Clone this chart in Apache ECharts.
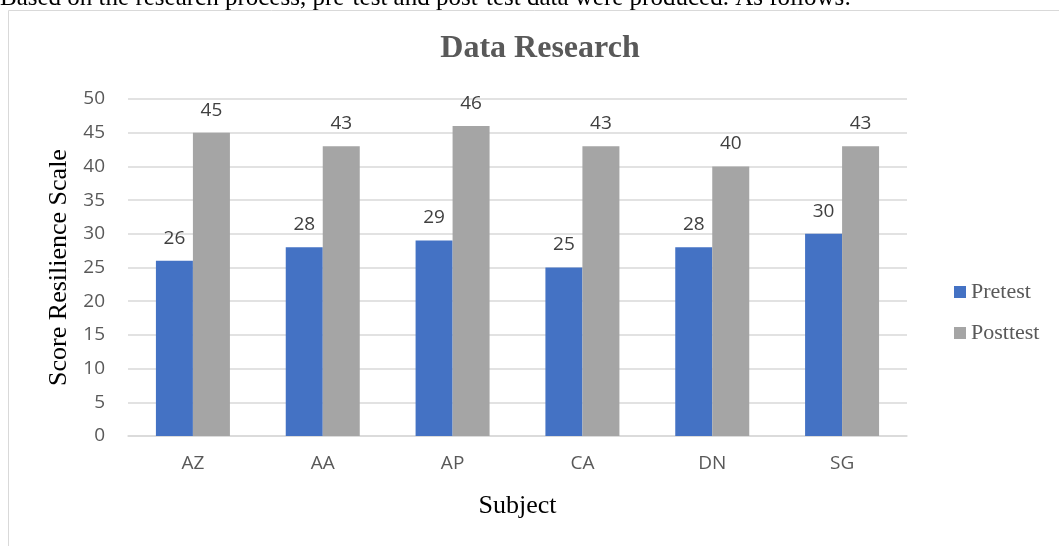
<!DOCTYPE html>
<html><head><meta charset="utf-8">
<script src="https://cdn.jsdelivr.net/npm/echarts@6/dist/echarts.min.js"></script>
<style>html,body{margin:0;padding:0;background:#fff;}#c{width:1059px;height:546px;}</style>
</head><body><div id="c"></div>
<script>
const categories = ['AZ', 'AA', 'AP', 'CA', 'DN', 'SG'];
const pretest = [26, 28, 29, 25, 28, 30];
const posttest = [45, 43, 46, 43, 40, 43];
const seriesNames = ['Pretest', 'Posttest'];

const chart = echarts.init(document.getElementById('c'));
const labelStyle = {show: true, position: 'top', distance: 13, color: '#404040', fontSize: 19, fontFamily: 'Open Sans'};
chart.setOption({
  animation: false,
  title: {
    text: 'Data Research', left: 535, top: 28, textAlign: 'center',
    textStyle: {fontFamily: 'Liberation Serif', fontWeight: 'bold', fontSize: 32, color: '#595959'}
  },
  graphic: [
    {type: 'rect', shape: {x: 8.5, y: 10.5, width: 1100, height: 600}, style: {fill: 'none', stroke: '#d9d9d9', lineWidth: 1}},
    {type: 'text', left: 0, top: -14, style: {text: 'Based on the research process, pre-test and post-test data were produced. As follows:', font: '25px "Liberation Serif"', fill: '#000'}}
  ],
  legend: {
    orient: 'vertical', left: 949, top: 276, itemGap: 19, itemWidth: 12, itemHeight: 12, icon: 'rect',
    textStyle: {fontFamily: 'Liberation Serif', fontSize: 22, color: '#595959'}
  },
  grid: {left: 128, right: 152, top: 99, bottom: 110},
  xAxis: {
    type: 'category', data: categories,
    name: 'Subject', nameLocation: 'middle', nameGap: 57,
    nameTextStyle: {fontFamily: 'Liberation Serif', fontSize: 26, color: '#000'},
    axisLine: {lineStyle: {color: '#d9d9d9', width: 1.5}}, axisTick: {show: false},
    axisLabel: {color: '#595959', fontSize: 19, fontFamily: 'Open Sans', margin: 18}
  },
  yAxis: {
    type: 'value', min: 0, max: 50, interval: 5,
    name: 'Score Resilience Scale', nameLocation: 'middle', nameGap: 56,
    nameTextStyle: {fontFamily: 'Liberation Serif', fontSize: 26, color: '#000'},
    axisLine: {show: false}, axisTick: {show: false},
    axisLabel: {color: '#595959', fontSize: 19, fontFamily: 'Open Sans', margin: 23},
    splitLine: {lineStyle: {color: '#d9d9d9', width: 1.5}}
  },
  series: [
    {name: seriesNames[0], type: 'bar', data: pretest, barWidth: 37, barGap: '0%', itemStyle: {color: '#4472C4'}, label: labelStyle},
    {name: seriesNames[1], type: 'bar', data: posttest, barWidth: 37, barGap: '0%', itemStyle: {color: '#A5A5A5'}, label: labelStyle}
  ]
});
</script></body></html>
